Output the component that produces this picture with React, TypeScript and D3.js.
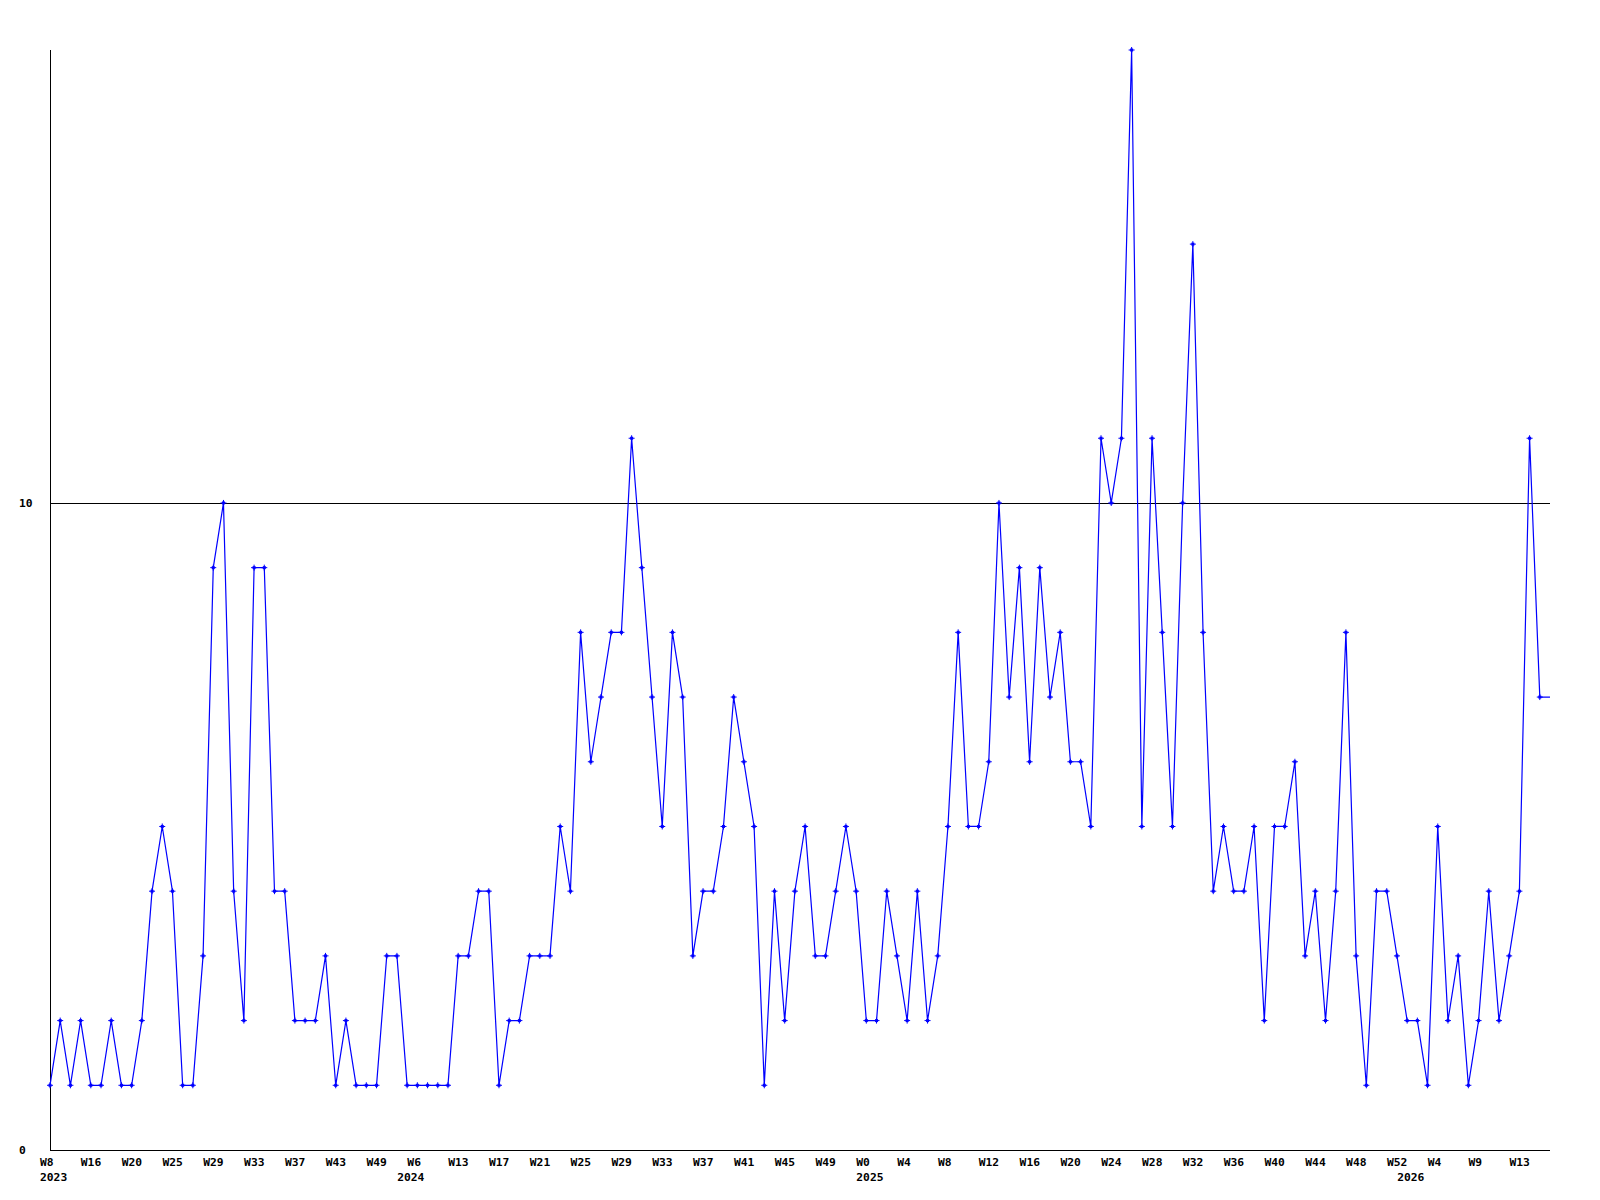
import React from "react";
import * as d3 from "d3";

const values: number[] = [
  1, 2, 1, 2, 1, 1, 2, 1, 1, 2, 4, 5, 4, 1, 1, 3, 9, 10, 4, 2,
  9, 9, 4, 4, 2, 2, 2, 3, 1, 2, 1, 1, 1, 3, 3, 1, 1, 1, 1, 1,
  3, 3, 4, 4, 1, 2, 2, 3, 3, 3, 5, 4, 8, 6, 7, 8, 8, 11, 9, 7,
  5, 8, 7, 3, 4, 4, 5, 7, 6, 5, 1, 4, 2, 4, 5, 3, 3, 4, 5, 4,
  2, 2, 4, 3, 2, 4, 2, 3, 5, 8, 5, 5, 6, 10, 7, 9, 6, 9, 7, 8,
  6, 6, 5, 11, 10, 11, 17, 5, 11, 8, 5, 10, 14, 8, 4, 5, 4, 4, 5, 2,
  5, 5, 6, 3, 4, 2, 4, 8, 3, 1, 4, 4, 3, 2, 2, 1, 5, 2, 3, 1,
  2, 4, 2, 3, 4, 11, 7,
];

const weekLabels: string[] = [
  "W8", "W16", "W20", "W25", "W29", "W33", "W37", "W43", "W49", "W6",
  "W13", "W17", "W21", "W25", "W29", "W33", "W37", "W41", "W45", "W49",
  "W0", "W4", "W8", "W12", "W16", "W20", "W24", "W28", "W32", "W36",
  "W40", "W44", "W48", "W52", "W4", "W9", "W13",
];
const weekLabelStep = 4;

const yearLabels: string[] = ["2023", "2024", "2025", "2026"];
const yearIndices: number[] = [0, 35, 80, 133];

const yTickValues: number[] = [0, 10];
const gridValues: number[] = [10];
const yMax = 17;

const W = 1600;
const H = 1200;
const left = 50;
const right = 1550;
const top = 50;
const bottom = 1150;
const FONT = "'DejaVu Sans Mono', monospace";
const FS = 11.3;

export default function App() {
  const x = d3.scaleLinear().domain([0, values.length]).range([left, right]);
  const y = d3.scaleLinear().domain([0, yMax]).range([bottom, top]);

  const pts: [number, number][] = values.map((v, i) => [x(i), y(v)]);
  const linePts: [number, number][] = [
    ...pts,
    [x(values.length), y(values[values.length - 1])],
  ];
  const lineGen = d3
    .line<[number, number]>()
    .x((d) => d[0])
    .y((d) => d[1]);

  return (
    <svg
      width={W}
      height={H}
      style={{ position: "fixed", left: 0, top: 0, background: "#fff" }}
    >
      <rect x={0} y={0} width={W} height={H} fill="#fff" />
      {gridValues.map((g) => (
        <line
          key={"g" + g}
          x1={left}
          x2={right}
          y1={Math.round(y(g)) + 0.5}
          y2={Math.round(y(g)) + 0.5}
          stroke="#000"
          strokeWidth={1}
          shapeRendering="crispEdges"
        />
      ))}
      <line
        x1={left + 0.5}
        x2={left + 0.5}
        y1={top}
        y2={bottom + 0.5}
        stroke="#000"
        strokeWidth={1}
        shapeRendering="crispEdges"
      />
      <line
        x1={left}
        x2={right}
        y1={bottom + 0.5}
        y2={bottom + 0.5}
        stroke="#000"
        strokeWidth={1}
        shapeRendering="crispEdges"
      />
      {yTickValues.map((t) => (
        <text
          key={"yt" + t}
          x={19}
          y={y(t) + 4}
          fontFamily={FONT}
          fontWeight="bold"
          fontSize={FS}
          fill="#000"
        >
          {t}
        </text>
      ))}
      {weekLabels.map((lab, k) => (
        <text
          key={"w" + k}
          x={x(k * weekLabelStep) - 10}
          y={1166}
          fontFamily={FONT}
          fontWeight="bold"
          fontSize={FS}
          fill="#000"
        >
          {lab}
        </text>
      ))}
      {yearLabels.map((lab, k) => (
        <text
          key={"yr" + k}
          x={x(yearIndices[k]) - 10}
          y={1181}
          fontFamily={FONT}
          fontWeight="bold"
          fontSize={FS}
          fill="#000"
        >
          {lab}
        </text>
      ))}
      <path
        d={lineGen(linePts) || ""}
        fill="none"
        stroke="#0000ff"
        strokeWidth={1.2}
      />
      {pts.map(([px, py], i) => (
        <g key={"m" + i} fill="#0000ff" stroke="#0000ff">
          <path
            d={`M${px - 3},${py}H${px + 3}M${px},${py - 3}V${py + 3}`}
            strokeWidth={1}
            fill="none"
          />
          <rect x={px - 1.5} y={py - 1.5} width={3} height={3} stroke="none" />
        </g>
      ))}
    </svg>
  );
}
